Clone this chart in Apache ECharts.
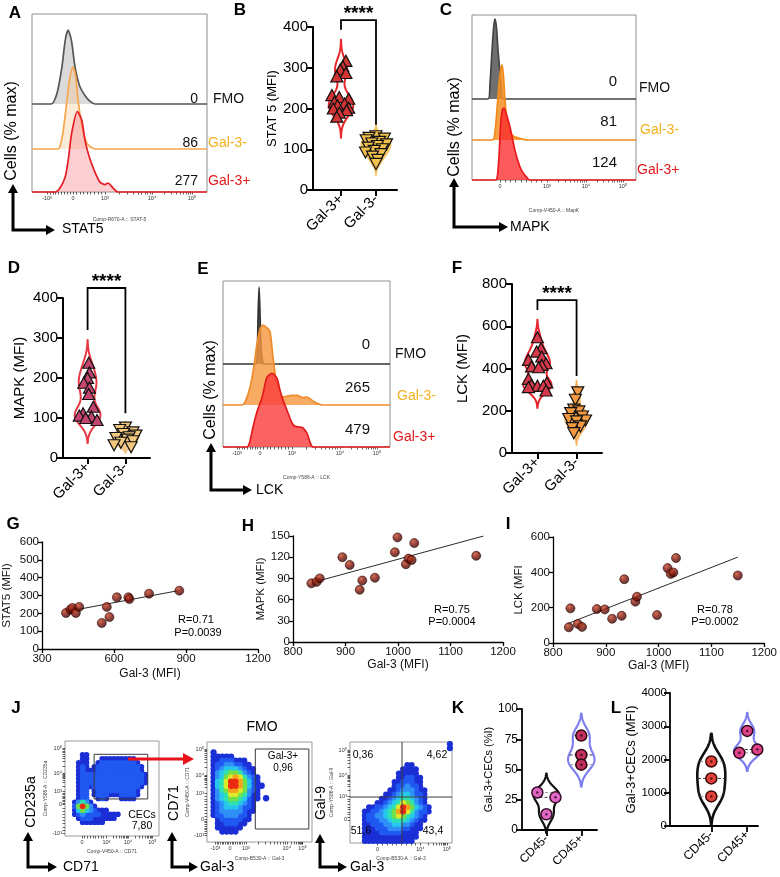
<!DOCTYPE html>
<html>
<head>
<meta charset="utf-8">
<title>Gal-3 CECs signalling</title>
<script src="https://cdn.jsdelivr.net/npm/echarts@6.0.0/dist/echarts.min.js"></script>
<style>
  html, body { margin: 0; padding: 0; background: #fff; }
  #main { width: 780px; height: 877px; }
</style>
</head>
<body>
<div id="main"></div>
<script>
// ================= data =================

// A / C / E : flow histograms. x = position on the logicle axis (0-100 of plot width), y = % of max
var laneNames = ['FMO', 'Gal-3-', 'Gal-3+'];

var histTicksA = [8.6, 23.4, 41.7, 68.6, 91.4];
var histTickTextA = ['-10³', '0', '10³', '10⁴', '10⁵'];
var histA_FMO = [[0,0],[11,0],[14.3,13],[17.1,45],[19,78],[20.6,90],[22.5,78],[24.6,45],[27.4,21],[31.4,7],[34,2],[36,0],[100,0]];
var histA_Neg = [[0,0],[15,0],[16,3],[17.7,20],[20,60],[21.5,85],[23.4,100],[25,88],[26.3,60],[28.6,27],[31.4,7],[34,2],[36,0],[100,0]];
var histA_Pos = [[0,0],[13,0],[16,5],[18.9,18],[20.7,39],[22.7,72],[25.9,98],[28.4,88],[30.3,63],[32.7,43],[36,24],[38.9,12],[41.7,9],[43.4,11],[46.3,5],[49.1,0],[100,0]];
var histMfiA = ['0', '86', '277'];

var histTicksC = [17.1, 45.7, 69.5, 92];
var histTickTextC = ['0', '10³', '10⁴', '10⁵'];
var histC_FMO = [[0,0],[9.8,0],[11,20],[12.2,60],[13.2,90],[14,100],[14.9,90],[15.9,60],[17.7,20],[18.9,0],[100,0]];
var histC_Neg = [[0,0],[12.5,0],[14,10],[15.2,37],[16.5,71],[17.5,88],[18.3,94],[19.2,80],[20.1,50],[22,16],[25,5],[30,1.5],[35,0],[100,0]];
var histC_Pos = [[0,0],[14.5,0],[15.5,5],[16.5,30],[17.5,70],[18.5,88],[19.5,90],[21,82],[23.2,66],[26.2,37],[29.3,16],[31.5,8],[33.5,3],[35,0],[100,0]];
var histMfiC = ['0', '81', '124'];

var histTicksE = [8.4, 22.2, 41.3, 70, 92.2];
var histTickTextE = ['-10³', '0', '10³', '10⁴', '10⁵'];
var histE_FMO = [[0,0],[19.5,0],[20.5,12],[21,60],[21.6,96],[22.2,60],[22.8,20],[23.6,5],[24.5,0],[100,0]];
var histE_Neg = [[0,0],[11,0],[13,3],[16.2,22],[18.5,48],[20.4,77],[22.2,95],[24,100],[26,97],[28.1,92],[29.9,60],[31.5,35],[32.9,22],[35.9,10],[38.3,11],[41,12],[44.3,12],[47.9,9],[50,10],[52.1,8],[54.5,4],[56.3,2],[59.3,0],[100,0]];
var histE_Pos = [[0,0],[14.4,0],[16,6],[18,25],[20.5,45],[23.4,62],[26.3,87],[29.3,92],[32.3,86],[34.1,71],[36.2,57],[38.3,46],[41.3,30],[43.1,26],[46,25],[47.9,24],[50.3,17],[52.1,6],[53.9,0],[100,0]];
var histMfiE = ['0', '265', '479'];

// B / D / F : violin plots, MFI per sample (dx = horizontal jitter of each symbol)
var galCats = ['Gal-3+', 'Gal-3-'];
var bStat5Pos = [317, 304, 296, 287, 279, 233, 228, 224, 216, 212, 208, 202, 200, 196, 190, 180];
var bStat5PosDx = [0.14, 0.05, -0.02, 0.14, -0.12, -0.26, -0.05, 0.22, -0.19, 0.1, -0.1, 0.22, -0.22, 0.16, -0.05, -0.12];
var bStat5Neg = [132, 128, 126, 122, 118, 114, 112, 108, 104, 100, 96, 92, 88, 82, 74, 64];
var bStat5NegDx = [0.0, -0.2, 0.24, -0.28, 0.1, -0.12, 0.3, 0.04, -0.22, 0.18, -0.05, -0.3, 0.14, -0.1, 0.05, 0.0];
var sigB = [417, 393, 160];

var dMapkPos = [238, 214, 200, 188, 176, 160, 128, 112, 106, 104, 100, 95];
var dMapkPosDx = [0.03, 0.05, 0.0, -0.1, 0.05, 0.03, 0.15, -0.12, -0.22, 0.1, -0.05, 0.25];
var dMapkNeg = [76, 70, 64, 60, 56, 52, 50, 46, 42, 38, 32, 27];
var dMapkNegDx = [0.0, -0.15, 0.2, -0.05, 0.28, 0.1, -0.25, 0.05, 0.2, -0.12, -0.3, 0.15];
var sigD = [425, 320, 112];

var fLckPos = [548, 496, 480, 457, 441, 425, 417, 410, 406, 351, 334, 323, 318, 318, 312, 296];
var fLckPosDx = [0, 0.09, -0.02, 0.11, -0.23, 0.22, 0.11, -0.15, 0.03, -0.23, 0.24, -0.15, 0, 0.15, -0.23, 0.22];
var fLckNeg = [287, 252, 205, 197, 189, 173, 161, 154, 150, 126, 118, 94];
var fLckNegDx = [0.03, -0.03, -0.07, 0.06, -0.15, 0.15, -0.2, 0.23, 0, 0.1, -0.11, -0.07];
var sigF = [724, 677, 364];

// G / H / I : correlations with Gal-3 MFI, plus the fitted line
var gGal3 = [400, 418, 427, 441, 455, 549, 570, 581, 612, 660, 664, 746, 872];
var gStat5 = [202, 221, 230, 202, 236, 146, 236, 179, 290, 290, 280, 310, 327];
var gFit = [[422, 215], [875, 329]];
var hGal3 = [835, 845, 851, 894, 908, 927, 932, 956, 994, 999, 1015, 1020, 1026, 1031, 1149];
var hMapk = [83, 85, 90, 120, 109, 74, 87, 91, 127, 148, 110, 118, 116, 140, 122];
var hFit = [[851, 87], [1163, 150]];
var iGal3 = [830, 833, 847, 855, 883, 898, 912, 930, 935, 956, 959, 997, 1017, 1023, 1028, 1033, 1150];
var iLck = [89, 196, 108, 91, 192, 190, 137, 154, 361, 234, 262, 158, 424, 391, 399, 481, 382];
var iFit = [[828, 110], [1150, 486]];

// J : pseudocolour density, 24 x 24 cells, one string per row (top row first), 0 = empty, 1-9 = density level
var densCD235a = [
  '', '', '',
  '000011000000000000000000',
  '000011000111111111000000',
  '000111001222222222100000',
  '000121012222222222210000',
  '000121112222222222210000',
  '000122222222222222221000',
  '000122222222222222221000',
  '000122222222222222221000',
  '000122122222222222210000',
  '000122012222222222100000',
  '000122012221112222100000',
  '000122001210001111000000',
  '001353100000000000000000',
  '002696310000000000000000',
  '001464321110000000000000',
  '001232222111110000000000',
  '000122211111100000000000',
  '000011111100000000000000'
];
var densFMO = [
  '', '',
  '01000000000000000000000',
  '01111100000000000000000',
  '01122211100000000000000',
  '01223322110000000000000',
  '01234443211000000000000',
  '01345665321000000000000',
  '01346787532100000000000',
  '01457998642100000000000',
  '01457998642110000000000',
  '01356887632100000000000',
  '01345776531100000000000',
  '01345665421101000000000',
  '01234554321000000000000',
  '01234443221000000000000',
  '01233333211000000000000',
  '01223332210000000000000',
  '00122222110000000000000',
  '00112221100000000000000',
  '00111111000000000000000',
  '00011110000000000000000'
];
var densGal9 = [
  '000000000000000000000001',
  '000000000000000000000001',
  '', '', '',
  '000000000000011000000000',
  '000000000000111100000000',
  '000000000001111100000000',
  '000000000001122110000000',
  '000000000011222110000000',
  '000000000012232210000000',
  '000000000112333211000000',
  '000000001123443221000000',
  '000000011234554321000000',
  '000000112345765321000000',
  '000011223457986432100000',
  '000112234568975322100000',
  '000122334567654321000000',
  '000122233455543211000000',
  '000112223344332110000000',
  '000111222333221110000000',
  '000111122222111100000000',
  '000111111111111100000000',
  '000111111111111000000000'
];
var j1TicksX = [18, 44, 67, 93], j1TextX = ['0', '10³', '10⁴', '10⁵'];
var j1TicksY = [3, 33, 47, 66, 92], j1TextY = ['-10³', '0', '10³', '10⁴', '10⁵'];
var j2TicksX = [8, 22, 37, 76, 91], j2TextX = ['-10³', '0', '10³', '10⁴', '10⁵'];
var j2TicksY = [7, 23, 49, 67, 93], j2TextY = ['-10³', '0', '10³', '10⁴', '10⁵'];
var j3TicksX = [27, 69, 95], j3TextX = ['0', '10⁴', '10⁵'];
var j3TicksY = [23, 46, 67, 92], j3TextY = ['0', '10³', '10⁴', '10⁵'];
var gateCEC = [[31, 39], [88, 39], [88, 86], [31, 86], [31, 39]];
var gateGal3 = [[46, 13], [97, 13], [97, 93], [46, 93], [46, 13]];
var quadGal9 = [51, 45.5];
var gateText = {cec: ['CECs', '7,80'], gal3: ['Gal-3+', '0,96'], quad: ['0,36', '4,62', '51,6', '43,4']};

// K / L : CECs, n = 3 per group
var cdCats = ['CD45-', 'CD45+'];
var kNeg = [31, 27, 13], kNegDx = [-0.26, 0.26, 0];
var kPos = [78, 62, 54], kPosDx = [0, 0, 0];
var lNeg = [1940, 1430, 890], lNegDx = [0, 0, 0];
var lPos = [2860, 2300, 2200], lPosDx = [0, 0.28, -0.22];

// ================= chart =================
var FONT = "'Liberation Sans', Arial, Helvetica, sans-serif";
var jet = ['', '#1b2fd6', '#2058f2', '#2f8ff7', '#26c6ee', '#2fe0b0', '#6fe04a', '#d9ec2c', '#f7a21d', '#ea2a12'];

var myChart = echarts.init(document.getElementById('main'));
var grids = [], xAxes = [], yAxes = [], series = [], graphics = [];

function plain(v) { return String(v); }   // no thousands separator

function addGrid(g, xa, ya) {
  var i = grids.length;
  grids.push(g);
  xa.gridIndex = i;
  ya.gridIndex = i;
  xAxes.push(xa);
  yAxes.push(ya);
  return i;
}

function hiddenAxis() {
  return {type: 'value', min: 0, max: 100, show: false};
}

// small ticks between the labelled ones (log spacing inside a decade)
function minorTicks(ticks, text) {
  var out = [];
  for (var i = 0; i < ticks.length - 1; i++) {
    var a = ticks[i], b = ticks[i + 1];
    var logDecade = text[i].indexOf('10') === 0 && text[i + 1].indexOf('10') === 0;
    for (var k = 2; k <= 9; k++) {
      out.push(logDecade ? a + (b - a) * Math.log10(k) : a + (b - a) * (k - 1) / 9);
    }
  }
  return out;
}

function pickText(ticks, text) {
  return function (v) {
    var best = 0;
    for (var i = 1; i < ticks.length; i++) {
      if (Math.abs(ticks[i] - v) < Math.abs(ticks[best] - v)) best = i;
    }
    return text[best];
  };
}

function flowAxis(ticks, text, name, gap, rotateName) {
  return {
    type: 'value', min: 0, max: 100, splitLine: {show: false},
    axisLine: {show: false, onZero: false},
    axisTick: {show: true, length: 2.5, customValues: ticks.concat(minorTicks(ticks, text)), lineStyle: {color: '#222', width: 0.7}},
    axisLabel: {show: true, customValues: ticks, margin: 3, fontSize: 5.5, color: '#333', formatter: pickText(ticks, text)},
    name: name, nameLocation: 'middle', nameGap: gap, nameRotate: rotateName ? 90 : 0,
    nameTextStyle: {fontSize: 5, color: '#444'}
  };
}

// ---- histogram panel: outer frame + one overlapping grid per lane ----
function histPanel(box, baselines, laneH, curves, looks, ticks, tickText, compName, gap) {
  addGrid({left: box[0], top: box[1], width: box[2], height: box[3], show: true, borderColor: '#8e8e8e', borderWidth: 1},
    flowAxis(ticks, tickText, compName, gap, false),
    {type: 'value', min: 0, max: 100, show: false});
  curves.forEach(function (c, k) {
    var gi = addGrid({left: box[0], top: baselines[k] - laneH, width: box[2], height: laneH}, hiddenAxis(), hiddenAxis());
    series.push({
      type: 'line', xAxisIndex: gi, yAxisIndex: gi, data: c, smooth: 0.25, symbol: 'none', clip: false, z: 3 + k, silent: true,
      lineStyle: {color: looks[k].line, width: 1.7}, areaStyle: {color: looks[k].fill, opacity: 1}
    });
  });
}

// ---- violin helpers ----
function kdeOutline(vals, bw, cx, half) {
  var lo = Math.min.apply(null, vals) - 2.6 * bw;
  var hi = Math.max.apply(null, vals) + 2.6 * bw;
  function dens(y) {
    var d = 0;
    vals.forEach(function (v) { var z = (y - v) / bw; d += Math.exp(-0.5 * z * z); });
    return d;
  }
  var n = 90, ys = [], ds = [], mx = 0, i;
  for (i = 0; i <= n; i++) {
    var y = lo + (hi - lo) * i / n, d = dens(y);
    ys.push(y); ds.push(d);
    if (d > mx) mx = d;
  }
  var right = [], left = [];
  for (i = 0; i <= n; i++) {
    var w = ds[i] / mx * half;
    right.push([cx + w, ys[i]]);
    left.unshift([cx - w, ys[i]]);
  }
  return {poly: right.concat(left), widthAt: function (y) { return dens(y) / mx * half; }};
}

function quantile(vals, q) {
  var s = vals.slice().sort(function (a, b) { return a - b; });
  var pos = Math.min(Math.max((s.length + 1) * q - 1, 0), s.length - 1);
  var lo = Math.floor(pos), hi = Math.ceil(pos);
  return s[lo] + (s[hi] - s[lo]) * (pos - lo);
}

function bracketSeries(gi, sig) {
  return {
    type: 'custom', xAxisIndex: gi, yAxisIndex: gi, z: 6, silent: true, data: [[1.5, sig[0]]],
    renderItem: function (params, api) {
      var a = api.coord([1, sig[1]]), b = api.coord([1, sig[0]]), c = api.coord([2, sig[0]]), d = api.coord([2, sig[2]]);
      return {type: 'group', children: [
        {type: 'polyline', shape: {points: [a, b, c, d]}, style: {stroke: '#000', lineWidth: 1.8, fill: null}},
        {type: 'text', x: (b[0] + c[0]) / 2, y: b[1] - 6,
          style: {text: '****', font: 'bold 19px ' + FONT, fill: '#000', textAlign: 'center', textVerticalAlign: 'middle', verticalAlign: 'middle'}}
      ]};
    }
  };
}

function violinPanel(p) {
  var gi = addGrid({left: p.rect[0], top: p.rect[1], width: p.rect[2], height: p.rect[3]},
    {type: 'value', min: p.xr[0], max: p.xr[1], splitLine: {show: false},
      axisLine: {show: true, onZero: false, lineStyle: {color: '#000', width: p.lw}},
      axisTick: {show: true, customValues: [1, 2], length: 6, lineStyle: {color: '#000', width: p.lw}},
      axisLabel: {customValues: [1, 2], rotate: 45, margin: 7, fontSize: p.cfs, color: '#000',
        formatter: function (v) { return p.cats[Math.round(v) - 1]; }}},
    {type: 'value', min: 0, max: p.ymax, interval: p.yint, splitLine: {show: false},
      axisLine: {show: true, onZero: false, lineStyle: {color: '#000', width: p.lw}},
      axisTick: {show: true, length: 6, lineStyle: {color: '#000', width: p.lw}},
      axisLabel: {fontSize: p.fs, color: '#000', margin: p.lm, formatter: plain},
      name: p.yName, nameLocation: 'middle', nameGap: p.nameGap, nameTextStyle: {fontSize: p.nfs, color: '#000'}});

  p.groups.forEach(function (g, k) {
    var cx = k + 1;
    var v = kdeOutline(g.vals, g.bw, cx, g.half);
    series.push({
      type: 'custom', xAxisIndex: gi, yAxisIndex: gi, z: 2, silent: true, data: [[cx, 0]],
      renderItem: function (params, api) {
        return {type: 'polygon', shape: {points: v.poly.map(function (q) { return api.coord(q); })},
          style: {fill: g.fill, stroke: g.stroke, lineWidth: g.lw, lineJoin: 'round'}};
      }
    });
    if (g.quart) {
      var lines = [[quantile(g.vals, 0.25), '#9a9a9a'], [quantile(g.vals, 0.5), '#3a3a3a'], [quantile(g.vals, 0.75), '#9a9a9a']];
      series.push({
        type: 'custom', xAxisIndex: gi, yAxisIndex: gi, z: 3, silent: true, data: [[cx, 0]],
        renderItem: function (params, api) {
          return {type: 'group', children: lines.map(function (l) {
            var w = v.widthAt(l[0]) * 0.95;
            var a = api.coord([cx - w, l[0]]), b = api.coord([cx + w, l[0]]);
            return {type: 'line', shape: {x1: a[0], y1: a[1], x2: b[0], y2: b[1]},
              style: {stroke: l[1], lineWidth: 1, lineDash: [3, 2]}};
          })};
        }
      });
    }
    series.push({
      type: 'scatter', xAxisIndex: gi, yAxisIndex: gi, z: 4, silent: true,
      data: g.vals.map(function (val, j) { return [cx + g.dx[j], val]; }),
      symbol: g.sym, symbolSize: g.size, symbolRotate: g.rot || 0,
      itemStyle: {color: g.color, borderColor: g.border || '#111', borderWidth: g.bwid || 1.2, opacity: 1}
    });
    if (g.dot) {
      series.push({
        type: 'scatter', xAxisIndex: gi, yAxisIndex: gi, z: 5, silent: true,
        data: g.vals.map(function (val, j) { return [cx + g.dx[j], val]; }),
        symbol: 'circle', symbolSize: 2.5, itemStyle: {color: g.dot}
      });
    }
  });
  if (p.sig) series.push(bracketSeries(gi, p.sig));
}

// ---- correlation panel ----
var sphere = {type: 'radial', x: 0.38, y: 0.32, r: 0.72,
  colorStops: [{offset: 0, color: '#c8482a'}, {offset: 0.5, color: '#7e140a'}, {offset: 1, color: '#2e0402'}]};

function corrPanel(p) {
  var gi = addGrid({left: p.rect[0], top: p.rect[1], width: p.rect[2], height: p.rect[3]},
    {type: 'value', min: p.xr[0], max: p.xr[1], interval: p.xint, splitLine: {show: false},
      axisLine: {onZero: false, lineStyle: {color: '#000', width: 1.3}},
      axisTick: {length: 4, lineStyle: {color: '#000', width: 1.3}},
      axisLabel: {fontSize: 11.5, color: '#111', margin: 4, formatter: plain},
      name: 'Gal-3 (MFI)', nameLocation: 'middle', nameGap: p.xGap, nameTextStyle: {fontSize: 12, color: '#111'}},
    {type: 'value', min: 0, max: p.ymax, interval: p.yint, splitLine: {show: false},
      axisLine: {onZero: false, lineStyle: {color: '#000', width: 1.3}},
      axisTick: {length: 4, lineStyle: {color: '#000', width: 1.3}},
      axisLabel: {fontSize: 11.5, color: '#111', margin: 3, formatter: plain},
      name: p.yName, nameLocation: 'middle', nameGap: p.yGap, nameTextStyle: {fontSize: 11.5, color: '#111'}});
  series.push({type: 'line', xAxisIndex: gi, yAxisIndex: gi, data: p.fit, symbol: 'none', silent: true, z: 2,
    lineStyle: {color: '#2a2a2a', width: 1}});
  series.push({type: 'scatter', xAxisIndex: gi, yAxisIndex: gi, z: 3, silent: true,
    data: p.xs.map(function (x, i) { return [x, p.ys[i]]; }),
    symbolSize: 9, itemStyle: {color: sphere, borderColor: '#220302', borderWidth: 0.7}});
}

// ---- flow density panel: each cell drawn as a soft dot, hottest cells last ----
function flowPanel(p) {
  var n = 24;
  var gi = addGrid({left: p.rect[0], top: p.rect[1], width: p.rect[2], height: p.rect[3], show: true, borderColor: '#9a9a9a', borderWidth: 1},
    flowAxis(p.xt, p.xtt, p.xName, p.xGap, false),
    flowAxis(p.yt, p.ytt, p.yName, p.yGap, true));
  var cells = [];
  p.rows.forEach(function (r, ri) {
    for (var c = 0; c < n; c++) {
      var lv = +(r.charAt(c) || 0);
      if (lv > 0) cells.push([c, n - 1 - ri, lv]);
    }
  });
  cells.sort(function (a, b) { return a[2] - b[2]; });
  series.push({
    type: 'custom', xAxisIndex: gi, yAxisIndex: gi, z: 2, silent: true, data: cells,
    renderItem: function (params, api) {
      var c = api.value(0), r = api.value(1), lv = api.value(2);
      var a = api.coord([c * 100 / n, (r + 1) * 100 / n]), b = api.coord([(c + 1) * 100 / n, r * 100 / n]);
      var w = b[0] - a[0], h = b[1] - a[1];
      return {type: 'circle', shape: {cx: a[0] + w / 2, cy: a[1] + h / 2, r: Math.max(w, h) * 0.72},
        style: {fill: jet[lv]}};
    }
  });
  (p.gates || []).forEach(function (g) {
    series.push({type: 'line', xAxisIndex: gi, yAxisIndex: gi, data: g, symbol: 'none', silent: true, z: 5,
      lineStyle: {color: '#3a3a3a', width: 1}});
  });
  return gi;
}

// ---- text and arrows ----
function T(x, y, text, size, opt) {
  opt = opt || {};
  graphics.push({type: 'text', x: x, y: y, rotation: opt.rot || 0, z: 60, silent: true,
    style: {text: text, font: (opt.bold ? 'bold ' : '') + size + 'px ' + FONT, fill: opt.color || '#000',
      textAlign: opt.align || 'center', textVerticalAlign: 'middle', verticalAlign: 'middle'}});
}

function arrowL(x0, y0, yTip, xTip) {
  graphics.push({type: 'polyline', z: 60, silent: true, shape: {points: [[x0, yTip + 7], [x0, y0], [xTip - 7, y0]]},
    style: {stroke: '#000', lineWidth: 3, fill: null}});
  graphics.push({type: 'polygon', z: 60, silent: true, shape: {points: [[x0 - 5, yTip + 9], [x0 + 5, yTip + 9], [x0, yTip]]}, style: {fill: '#000'}});
  graphics.push({type: 'polygon', z: 60, silent: true, shape: {points: [[xTip - 9, y0 - 5], [xTip - 9, y0 + 5], [xTip, y0]]}, style: {fill: '#000'}});
}

// ================= panels =================
var soft = [{line: '#555555', fill: 'rgba(150,150,150,0.35)'}, {line: '#f6a64c', fill: 'rgba(250,195,140,0.35)'}, {line: '#e51d24', fill: 'rgba(245,125,135,0.38)'}];
var solidC = [{line: '#444444', fill: 'rgba(95,95,95,0.9)'}, {line: '#f08a1c', fill: 'rgba(243,145,35,0.85)'}, {line: '#ea1a1e', fill: 'rgba(250,45,45,0.78)'}];
var solidE = [{line: '#333333', fill: 'rgba(70,70,70,0.9)'}, {line: '#ef8a2a', fill: 'rgba(245,150,60,0.8)'}, {line: '#e31a1c', fill: 'rgba(250,60,60,0.8)'}];

histPanel([32, 14, 175, 178], [104, 149, 192], 82, [histA_FMO, histA_Neg, histA_Pos], soft, histTicksA, histTickTextA, 'Comp-R670-A :: STAT-5', 25);
histPanel([472, 15, 164, 165], [99, 140, 180], 80, [histC_FMO, histC_Neg, histC_Pos], solidC, histTicksC, histTickTextC, 'Comp-V450-A :: MapK', 28);
histPanel([223, 281, 167, 166], [364, 405, 447], 80, [histE_FMO, histE_Neg, histE_Pos], solidE, histTicksE, histTickTextE, 'Comp-Y586-A :: LCK', 28);

violinPanel({rect: [313, 27, 84, 163], xr: [0.2, 2.6], ymax: 400, yint: 100, yName: 'STAT 5 (MFI)', nfs: 13, nameGap: 34,
  fs: 15, cfs: 15, lm: 5, lw: 2, cats: galCats, sig: sigB, groups: [
    {vals: bStat5Pos, dx: bStat5PosDx, bw: 20, half: 0.35, stroke: '#e8262c', fill: 'rgba(255,255,255,0)', lw: 2, sym: 'triangle', size: [12, 11], color: '#d33535'},
    {vals: bStat5Neg, dx: bStat5NegDx, bw: 11, half: 0.42, stroke: '#f5c35c', fill: '#f7cd72', lw: 1.5, sym: 'triangle', rot: 180, size: [12, 11], color: '#f2c14e'}]});

violinPanel({rect: [63, 298, 87, 160], xr: [0.35, 2.65], ymax: 400, yint: 100, yName: 'MAPK (MFI)', nfs: 15, nameGap: 36,
  fs: 15, cfs: 15, lm: 5, lw: 2, cats: galCats, sig: sigD, groups: [
    {vals: dMapkPos, dx: dMapkPosDx, bw: 22, half: 0.34, stroke: '#e63946', fill: 'rgba(255,255,255,0)', lw: 2, sym: 'triangle', size: [12, 11], color: '#c4456f'},
    {vals: dMapkNeg, dx: dMapkNegDx, bw: 6, half: 0.35, stroke: '#f3c98b', fill: '#f3c98b', lw: 1.5, sym: 'triangle', rot: 180, size: [12, 11], color: '#f2c87e'}]});

violinPanel({rect: [512, 284, 90, 169], xr: [0.35, 2.65], ymax: 800, yint: 200, yName: 'LCK (MFI)', nfs: 15, nameGap: 42,
  fs: 15, cfs: 15, lm: 5, lw: 2, cats: galCats, sig: sigF, groups: [
    {vals: fLckPos, dx: fLckPosDx, bw: 32, half: 0.36, stroke: '#e8232b', fill: 'rgba(255,255,255,0)', lw: 2, sym: 'triangle', size: [12, 11], color: '#d63a4a'},
    {vals: fLckNeg, dx: fLckNegDx, bw: 22, half: 0.3, stroke: '#f6b25e', fill: '#f6b25e', lw: 1.5, sym: 'triangle', rot: 180, size: [12, 11], color: '#f39a42'}]});

violinPanel({rect: [522, 709, 75, 121], xr: [0.3, 2.45], ymax: 100, yint: 25, yName: 'Gal-3+CECs (%I)', nfs: 11, nameGap: 28,
  fs: 12, cfs: 12, lm: 4, lw: 1.8, cats: cdCats, groups: [
    {vals: kNeg, dx: kNegDx, bw: 6, half: 0.37, stroke: '#111', fill: 'rgba(255,255,255,0)', lw: 2.2, quart: true, sym: 'circle', size: 11, color: '#df67c4', border: '#3b0d2a', bwid: 1.5, dot: '#3b0d2a'},
    {vals: kPos, dx: kPosDx, bw: 7, half: 0.38, stroke: '#7f7ff0', fill: 'rgba(255,255,255,0)', lw: 2.2, quart: true, sym: 'circle', size: 11, color: '#c2305e', border: '#2a0610', bwid: 1.5, dot: '#2a0610'}]});

violinPanel({rect: [670, 693, 88, 133], xr: [-0.15, 2.3], ymax: 4000, yint: 1000, yName: 'Gal-3+CECs (MFI)', nfs: 13, nameGap: 32,
  fs: 11.5, cfs: 12.5, lm: 3, lw: 1.8, cats: cdCats, groups: [
    {vals: lNeg, dx: lNegDx, bw: 320, half: 0.39, stroke: '#111', fill: 'rgba(255,255,255,0)', lw: 2.6, quart: true, sym: 'circle', size: 11, color: '#e2403a', border: '#3a0a08', bwid: 1.5, dot: '#3a0a08'},
    {vals: lPos, dx: lPosDx, bw: 210, half: 0.37, stroke: '#7b7bf0', fill: 'rgba(255,255,255,0)', lw: 2.2, quart: true, sym: 'circle', size: 11, color: '#e0428a', border: '#2a0618', bwid: 1.5, dot: '#2a0618'}]});

corrPanel({rect: [42, 542, 216, 107], xr: [300, 1200], xint: 300, ymax: 600, yint: 100, yName: 'STAT5 (MFI)', yGap: 29, xGap: 19,
  xs: gGal3, ys: gStat5, fit: gFit});
corrPanel({rect: [293, 536, 210, 106], xr: [800, 1200], xint: 100, ymax: 150, yint: 30, yName: 'MAPK (MFI)', yGap: 25, xGap: 17,
  xs: hGal3, ys: hMapk, fit: hFit});
corrPanel({rect: [553, 537, 212, 106], xr: [800, 1200], xint: 100, ymax: 600, yint: 200, yName: 'LCK (MFI', yGap: 28, xGap: 17,
  xs: iGal3, ys: iLck, fit: iFit});

flowPanel({rect: [65, 741, 94, 95], rows: densCD235a, xt: j1TicksX, xtt: j1TextX, yt: j1TicksY, ytt: j1TextY,
  xName: 'Comp-V450-A :: CD71', xGap: 13, yName: 'Comp-Y586-A :: CD235a', yGap: 17, gates: [gateCEC]});
flowPanel({rect: [207, 742, 105, 100], rows: densFMO, xt: j2TicksX, xtt: j2TextX, yt: j2TicksY, ytt: j2TextY,
  xName: 'Comp-B530-A :: Gal-3', xGap: 14, yName: 'Comp-V450-A :: CD71', yGap: 16, gates: [gateGal3]});
flowPanel({rect: [350, 742, 102, 101], rows: densGal9, xt: j3TicksX, xtt: j3TextX, yt: j3TicksY, ytt: j3TextY,
  xName: 'Comp-B530-A :: Gal-3', xGap: 13, yName: 'Comp-Y586-A :: Gal-9', yGap: 12,
  gates: [[[quadGal9[0], 0], [quadGal9[0], 100]], [[0, quadGal9[1]], [100, quadGal9[1]]]]});

// panel letters
[['A', 15, 13], ['B', 240, 10], ['C', 446, 10], ['D', 14, 268], ['E', 203, 269], ['F', 457, 268],
 ['G', 13, 524], ['H', 248, 526], ['I', 508, 524], ['J', 16, 708], ['K', 458, 708], ['L', 616, 708]].forEach(function (l) {
  T(l[1], l[2], l[0], 17, {bold: true});
});

// histogram lane labels
var laneColors = ['#111111', '#f2b01e', '#e3191c'];
function laneLabels(mfi, numX, ys, nameXs, nameYs, fs) {
  for (var k = 0; k < 3; k++) {
    T(numX, ys[k], mfi[k], fs, {align: 'right', color: '#111'});
    T(nameXs[k], nameYs[k], laneNames[k], 14, {align: 'left', color: laneColors[k]});
  }
}
laneLabels(histMfiA, 198, [99, 143, 181], [213, 208, 208], [99, 143, 181], 14);
laneLabels(histMfiC, 617, [82, 122, 163], [639, 640, 637], [88, 130, 170], 15);
laneLabels(histMfiE, 370, [345, 388, 430], [395, 397, 393], [354, 396, 437], 15);

// histogram axis arrows and titles
arrowL(13, 230, 184, 55);
T(12, 131, 'Cells (% max)', 16, {rot: Math.PI / 2});
T(62, 229, 'STAT5', 14, {align: 'left'});
arrowL(454, 227, 178, 508);
T(455, 127, 'Cells (% max)', 16, {rot: Math.PI / 2});
T(510, 227, 'MAPK', 14, {align: 'left'});
arrowL(211, 490, 443, 252);
T(211, 390, 'Cells (% max)', 16, {rot: Math.PI / 2});
T(256, 490, 'LCK', 14, {align: 'left'});

// correlation statistics
T(196, 620, 'R=0.71', 11); T(198, 633, 'P=0.0039', 11);
T(452, 610, 'R=0.75', 11); T(452, 622, 'P=0.0004', 11);
T(715, 610, 'R=0.78', 11); T(715, 622, 'P=0.0002', 11);

// J : titles, gate labels, arrows
arrowL(28, 867, 832, 57);
T(31, 802, 'CD235a', 14, {rot: Math.PI / 2});
T(63, 867, 'CD71', 14, {align: 'left'});
arrowL(172, 867, 832, 198);
T(174, 803, 'CD71', 14, {rot: Math.PI / 2});
T(200, 867, 'Gal-3', 14, {align: 'left'});
arrowL(320, 867, 834, 347);
T(321, 803, 'Gal-9', 14, {rot: Math.PI / 2});
T(350, 867, 'Gal-3', 14, {align: 'left'});
T(262, 727, 'FMO', 14);
T(142, 815, gateText.cec[0], 10.5); T(142, 826, gateText.cec[1], 10.5);
T(283, 756, gateText.gal3[0], 10); T(283, 768, gateText.gal3[1], 10);
T(363, 755, gateText.quad[0], 10.5); T(437, 755, gateText.quad[1], 10.5);
T(361, 831, gateText.quad[2], 10.5); T(433, 831, gateText.quad[3], 10.5);
graphics.push({type: 'line', z: 60, silent: true, shape: {x1: 128, y1: 759, x2: 184, y2: 759}, style: {stroke: '#e8141c', lineWidth: 3}});
graphics.push({type: 'polygon', z: 60, silent: true, shape: {points: [[183, 753], [183, 765], [194, 759]]}, style: {fill: '#e8141c'}});

var option = {
  animation: false,
  backgroundColor: '#ffffff',
  textStyle: {fontFamily: 'Liberation Sans, Arial, sans-serif'},
  grid: grids,
  xAxis: xAxes,
  yAxis: yAxes,
  series: series,
  graphic: {elements: graphics}
};
myChart.setOption(option);
window.addEventListener('resize', function () {
  myChart.resize();
});
</script>
</body>
</html>
